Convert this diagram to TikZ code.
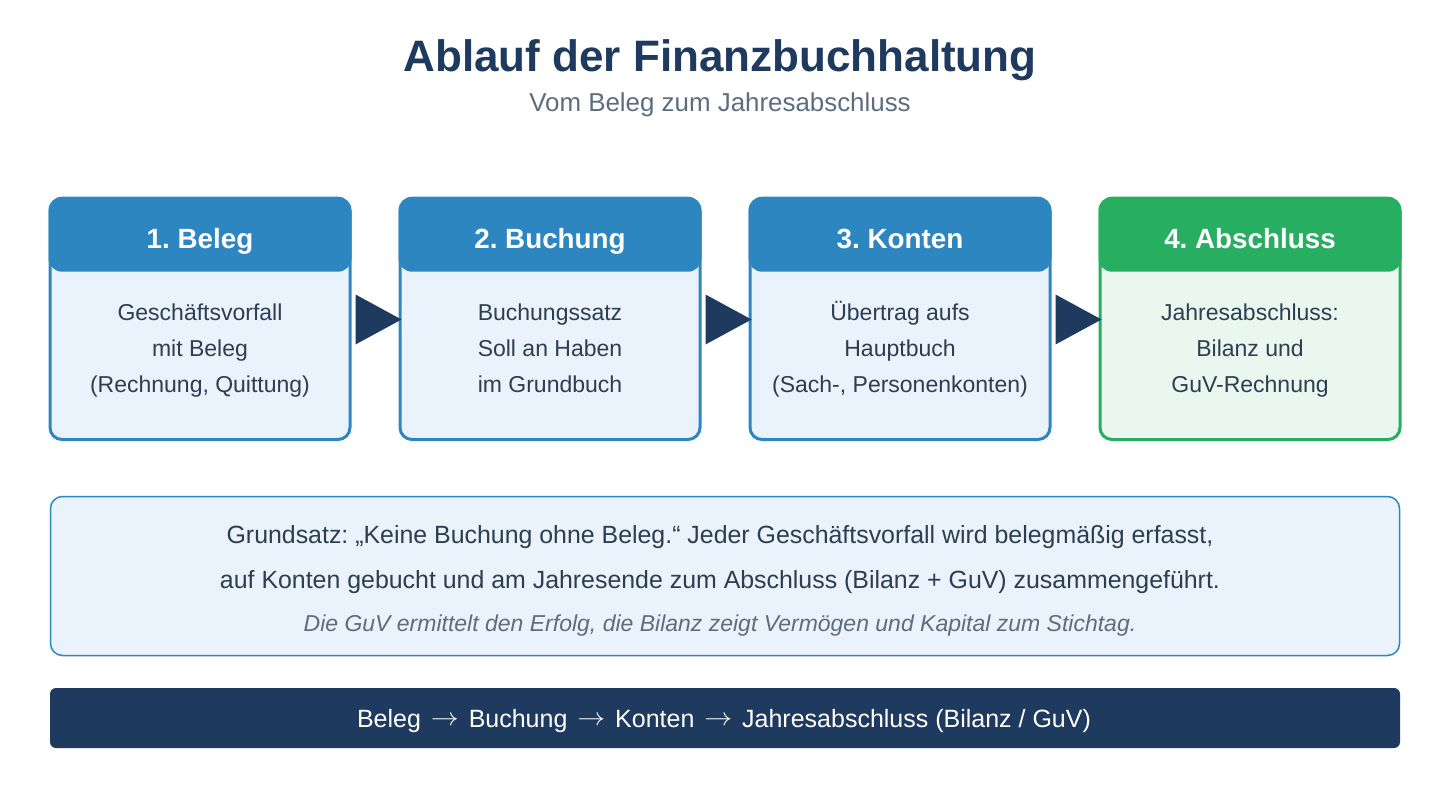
\documentclass[tikz,border=0pt]{standalone}
\usepackage{fontspec}
\usepackage{graphicx}
\setmainfont{Liberation Sans}
\usetikzlibrary{calc}
\frenchspacing
\definecolor{navy}{HTML}{1F3A5F}
\definecolor{hblue}{HTML}{2E86C1}
\definecolor{bbody}{HTML}{EAF2FB}
\definecolor{hgreen}{HTML}{27AE60}
\definecolor{gbody}{HTML}{E9F7EF}
\definecolor{txt}{HTML}{2C3E50}
\definecolor{sub}{HTML}{5D6D7E}
\newcommand{\arrw}{\hspace{3pt}\raisebox{2pt}{\scalebox{1.12}[1]{$\rightarrow$}}\hspace{3pt}}
\tikzset{
  stepbox/.style={draw=hblue, fill=bbody, line width=3pt, rounded corners=12pt,
    minimum width=300pt, minimum height=240pt, inner sep=0pt},
  stephead/.style={fill=hblue, rounded corners=13.5pt, minimum width=303pt,
    minimum height=75pt, inner sep=0pt, anchor=north},
  headtxt/.style={text=white, font=\fontsize{27.8}{30}\selectfont\bfseries, anchor=base, inner sep=0pt},
  bodytxt/.style={text=txt, font=\fontsize{23}{26}\selectfont, anchor=base, inner sep=0pt},
  notetxt/.style={text=txt, font=\fontsize{24.9}{28}\selectfont, anchor=base, inner sep=0pt},
  arr/.style={fill=navy},
}
\begin{document}
\begin{tikzpicture}[x=1pt,y=-1pt]
\useasboundingbox (0,0) rectangle (1440,800);
\fill[white] (0,0) rectangle (1440,800);

\node[text=navy, font=\fontsize{44}{48}\selectfont\bfseries, anchor=base, inner sep=0pt] (title) at (720,71) {Ablauf der Finanzbuchhaltung};
\node[text=sub, font=\fontsize{25.9}{28}\selectfont, anchor=base, inner sep=0pt] (subtitle) at (720,111) {Vom Beleg zum Jahresabschluss};

% boxes
\node[stepbox] (b1) at (200,319.5) {};
\node[stepbox] (b2) at (550,319.5) {};
\node[stepbox] (b3) at (900,319.5) {};
\node[stepbox, draw=hgreen, fill=gbody] (b4) at (1250,319.5) {};

\node[stephead] (h1) at ($(b1.north)+(0,-1.5)$) {};
\node[stephead] (h2) at ($(b2.north)+(0,-1.5)$) {};
\node[stephead] (h3) at ($(b3.north)+(0,-1.5)$) {};
\node[stephead, fill=hgreen] (h4) at ($(b4.north)+(0,-1.5)$) {};

\node[headtxt] (ht1) at (200,248.5) {1. Beleg};
\node[headtxt] (ht2) at (550,248.5) {2. Buchung};
\node[headtxt] (ht3) at (900,248.5) {3. Konten};
\node[headtxt] (ht4) at (1250,248.5) {4. Abschluss};

\node[bodytxt] (t1a) at (200,320) {Geschäftsvorfall};
\node[bodytxt] (t1b) at (200,356) {mit Beleg};
\node[bodytxt] (t1c) at (200,392) {(Rechnung, Quittung)};
\node[bodytxt] (t2a) at (550,320) {Buchungssatz};
\node[bodytxt] (t2b) at (550,356) {Soll an Haben};
\node[bodytxt] (t2c) at (550,392) {im Grundbuch};
\node[bodytxt] (t3a) at (900,320) {Übertrag aufs};
\node[bodytxt] (t3b) at (900,356) {Hauptbuch};
\node[bodytxt] (t3c) at (900,392) {(Sach-, Personenkonten)};
\node[bodytxt] (t4a) at (1250,320) {Jahresabschluss:};
\node[bodytxt] (t4b) at (1250,356) {Bilanz und};
\node[bodytxt] (t4c) at (1250,392) {GuV-Rechnung};

% arrows
\fill[arr] ($(b1.east)+(4,-25)$) -- ($(b1.east)+(4,25)$) -- ($(b2.west)+(3,0)$) -- cycle;
\fill[arr] ($(b2.east)+(4,-25)$) -- ($(b2.east)+(4,25)$) -- ($(b3.west)+(3,0)$) -- cycle;
\fill[arr] ($(b3.east)+(4,-25)$) -- ($(b3.east)+(4,25)$) -- ($(b4.west)+(3,0)$) -- cycle;

% note
\node[draw=hblue, fill=bbody, line width=1.5pt, rounded corners=12pt,
  minimum width=1349pt, minimum height=159pt, inner sep=0pt] (note) at (725,576) {};
\node[notetxt] (n1) at (720,543) {Grundsatz: „Keine Buchung ohne Beleg.“ Jeder Geschäftsvorfall wird belegmäßig erfasst,};
\node[notetxt] (n2) at (720,588) {auf Konten gebucht und am Jahresende zum Abschluss (Bilanz + GuV) zusammengeführt.};
\node[text=sub, font=\fontsize{23}{26}\selectfont\itshape, anchor=base, inner sep=0pt] (n3) at (720,631) {Die GuV ermittelt den Erfolg, die Bilanz zeigt Vermögen und Kapital zum Stichtag.};

% bottom bar
\node[fill=navy, rounded corners=6pt, minimum width=1350pt, minimum height=60pt, inner sep=0pt] (bar) at (725,718) {};
\node[text=white, font=\fontsize{25}{28}\selectfont, anchor=base, inner sep=0pt] (bartxt) at (724,727) {Beleg \arrw{} Buchung \arrw{} Konten \arrw{} Jahresabschluss (Bilanz / GuV)};
\end{tikzpicture}
\end{document}
